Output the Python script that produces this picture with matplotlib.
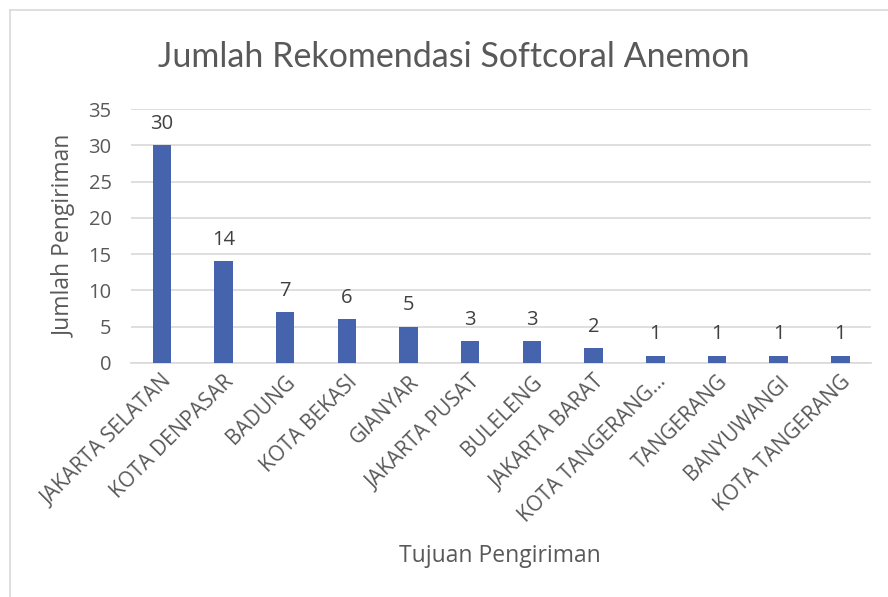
import matplotlib.pyplot as plt
from matplotlib.lines import Line2D

# data
tujuan = ['JAKARTA SELATAN', 'KOTA DENPASAR', 'BADUNG', 'KOTA BEKASI', 'GIANYAR',
          'JAKARTA PUSAT', 'BULELENG', 'JAKARTA BARAT', 'KOTA TANGERANG...',
          'TANGERANG', 'BANYUWANGI', 'KOTA TANGERANG']
jumlah = [30, 14, 7, 6, 5, 3, 3, 2, 1, 1, 1, 1]
y_ticks = [0, 5, 10, 15, 20, 25, 30, 35]

text_color = '#595959'
grid_color = '#D9D9D9'
bar_color = '#4664AD'

plt.rcParams['font.family'] = ['Open Sans', 'DejaVu Sans']

fig = plt.figure(figsize=(8.88, 5.97), dpi=100)
ax = fig.add_axes([0.1475, 0.392, 0.8335, 0.425])

x = list(range(len(tujuan)))
bars = ax.bar(x, jumlah, width=0.3, color=bar_color, zorder=3)

for xi, v in zip(x, jumlah):
    ax.text(xi, v + 1.6, str(v), ha='center', va='bottom', fontsize=14.5, color='#404040')

ax.set_xlim(-0.5, len(tujuan) - 0.5)
ax.set_ylim(0, 35)
ax.set_yticks(y_ticks)
ax.set_xticks(x)
ax.set_xticklabels(tujuan, rotation=45, ha='right', va='top', rotation_mode='anchor',
                   fontsize=15, color=text_color)
ax.tick_params(axis='y', length=0, pad=14, labelsize=14.5, labelcolor=text_color)
ax.tick_params(axis='x', length=0, pad=6)

ax.grid(axis='y', color=grid_color, linewidth=1.2, zorder=0)
for s in ['top', 'right', 'left']:
    ax.spines[s].set_visible(False)
ax.spines['bottom'].set_color(grid_color)
ax.spines['bottom'].set_linewidth(1.2)

ax.set_ylabel('Jumlah Pengiriman', fontsize=16.5, color=text_color, labelpad=8)
fig.text(0.563, 0.069, 'Tujuan Pengiriman', ha='center', va='center', fontsize=16.5, color=text_color)
fig.text(0.511, 0.905, 'Jumlah Rekomendasi Softcoral Anemon', ha='center', va='center',
         fontsize=24.5, color=text_color, family=['Lato', 'DejaVu Sans'])

# chart area border
fig.add_artist(Line2D([10 / 888, 1], [1 - 10 / 597, 1 - 10 / 597], transform=fig.transFigure,
                      color=grid_color, linewidth=1.2))
fig.add_artist(Line2D([10 / 888, 10 / 888], [0, 1 - 10 / 597], transform=fig.transFigure,
                      color=grid_color, linewidth=1.2))

fig.savefig('out.png', dpi=100)
